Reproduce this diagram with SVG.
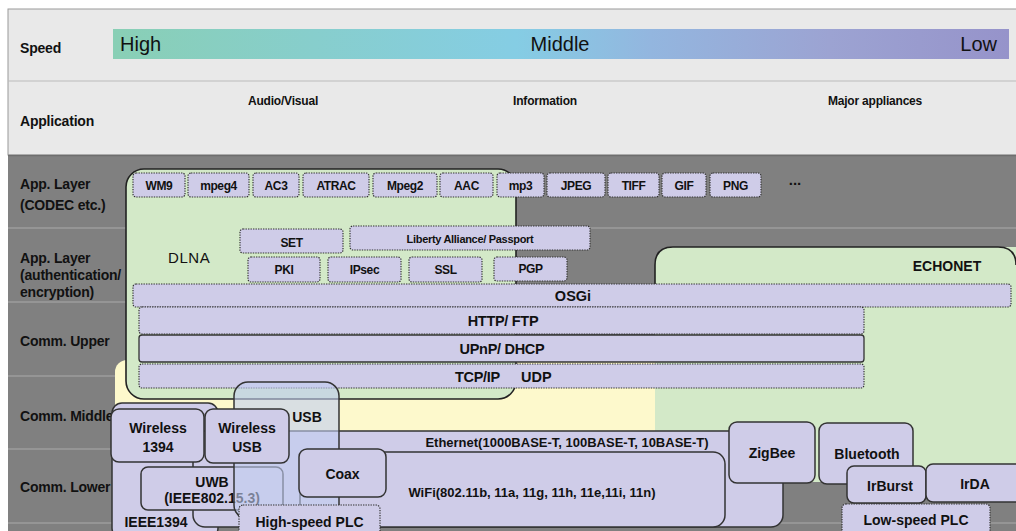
<svg xmlns="http://www.w3.org/2000/svg" width="1016" height="531" viewBox="0 0 1016 531">
<defs>
<linearGradient id="spd" x1="0" y1="0" x2="1" y2="0">
<stop offset="0" stop-color="#89cfb5"/>
<stop offset="0.45" stop-color="#85cde4"/>
<stop offset="0.6" stop-color="#93b6df"/>
<stop offset="0.8" stop-color="#9ca3d2"/>
<stop offset="1" stop-color="#9693ca"/>
</linearGradient>
<style>
text{font-family:"Liberation Sans",Arial,sans-serif;fill:#111}
.lbl{font-size:14px;font-weight:bold;letter-spacing:-0.2px}
.app{font-size:12px;font-weight:bold;text-anchor:middle;letter-spacing:-0.2px}
.spd{font-size:20px}
.c{text-anchor:middle;font-weight:bold}
.s11{font-size:11px}
.s12{font-size:12px;letter-spacing:-0.4px}
.s13{font-size:13px}
.s14{font-size:14px}
.s145{font-size:14.5px}
.box{fill:#cfcce8;stroke:#333;stroke-width:1.5}
.dot{fill:#cfcce8;stroke:#333;stroke-width:1.2;stroke-dasharray:1.4 1.1}
.div{stroke:#9c9c9c;stroke-width:1.5}
</style>
</defs>

<g id="background">
<rect x="0" y="0" width="1016" height="531" fill="#ffffff"/>
<rect x="8" y="9" width="1010" height="146" fill="#e9e9e9" stroke="#9a9a9a" stroke-width="1"/>
<line x1="8" y1="81" x2="1016" y2="81" stroke="#bcbcbc" stroke-width="1.2"/>
<rect x="8" y="155" width="1010" height="380" fill="#808080"/>
<line x1="8" y1="155.5" x2="1016" y2="155.5" stroke="#6e6e6e" stroke-width="1.5"/>
<line class="div" x1="8" y1="228" x2="1016" y2="228"/>
<line class="div" x1="8" y1="302" x2="1016" y2="302"/>
<line class="div" x1="8" y1="376" x2="1016" y2="376"/>
<line class="div" x1="8" y1="449" x2="1016" y2="449"/>
<line class="div" x1="8" y1="523" x2="1016" y2="523"/>
</g>

<g id="speed">
<rect x="113" y="29" width="896" height="30" fill="url(#spd)"/>
<text class="lbl" x="20" y="53">Speed</text>
<text class="spd" x="120" y="51">High</text>
<text class="spd" x="560" y="51" text-anchor="middle">Middle</text>
<text class="spd" x="997" y="51" text-anchor="end">Low</text>
</g>

<g id="application">
<text class="lbl" x="20" y="126">Application</text>
<text class="app" x="283" y="105">Audio/Visual</text>
<text class="app" x="545" y="105">Information</text>
<text class="app" x="875" y="105">Major appliances</text>
</g>

<g id="row-labels">
<text class="lbl" x="20" y="189">App. Layer</text>
<text class="lbl" x="20" y="210">(CODEC etc.)</text>
<text class="lbl" x="20" y="263">App. Layer</text>
<text class="lbl" x="20" y="280">(authentication/</text>
<text class="lbl" x="20" y="297">encryption)</text>
<text class="lbl" x="20" y="346">Comm. Upper</text>
<text class="lbl" x="20" y="421">Comm. Middle</text>
<text class="lbl" x="20" y="492">Comm. Lower</text>
</g>

<g id="yellow-area">
<rect x="115" y="360" width="560" height="71" rx="12" fill="#fdf9cc"/>
</g>

<g id="dlna">
<rect x="126" y="169" width="390" height="230" rx="18" fill="#d3e9c8" stroke="#222" stroke-width="1.6"/>
<text x="168" y="263" font-size="15" fill="#4a4a4a" letter-spacing="0.6">DLNA</text>
</g>

<g id="echonet">
<rect x="655" y="247" width="380" height="235" rx="18" fill="#d3e9c8"/>
<path d="M655,290 V265 Q655,247 673,247 H998 Q1016,247 1016,265" fill="none" stroke="#222" stroke-width="1.6"/>
<text x="947" y="271" font-size="14" font-weight="bold" text-anchor="middle">ECHONET</text>
</g>

<g id="codecs">
<g id="wm9"><rect class="dot" x="133" y="173" width="52" height="24" rx="3"/><text class="c s12" x="159" y="190">WM9</text></g>
<g id="mpeg4"><rect class="dot" x="188" y="173" width="61" height="24" rx="3"/><text class="c s12" x="218.5" y="190">mpeg4</text></g>
<g id="ac3"><rect class="dot" x="253" y="173" width="46" height="24" rx="3"/><text class="c s12" x="276" y="190">AC3</text></g>
<g id="atrac"><rect class="dot" x="303" y="173" width="66" height="24" rx="3"/><text class="c s12" x="336" y="190">ATRAC</text></g>
<g id="mpeg2"><rect class="dot" x="373" y="173" width="64" height="24" rx="3"/><text class="c s12" x="405" y="190">Mpeg2</text></g>
<g id="aac"><rect class="dot" x="440" y="173" width="53" height="24" rx="3"/><text class="c s12" x="466.5" y="190">AAC</text></g>
<g id="mp3"><rect class="dot" x="497" y="173" width="47" height="24" rx="3"/><text class="c s12" x="520.5" y="190">mp3</text></g>
<g id="jpeg"><rect class="dot" x="547" y="173" width="58" height="24" rx="3"/><text class="c s12" x="576" y="190">JPEG</text></g>
<g id="tiff"><rect class="dot" x="608" y="173" width="51" height="24" rx="3"/><text class="c s12" x="633.5" y="190">TIFF</text></g>
<g id="gif"><rect class="dot" x="662" y="173" width="44" height="24" rx="3"/><text class="c s12" x="684" y="190">GIF</text></g>
<g id="png"><rect class="dot" x="710" y="173" width="51" height="24" rx="3"/><text class="c s12" x="735.5" y="190">PNG</text></g>
<text class="c" font-size="15" x="795" y="185">...</text>
</g>

<g id="security">
<g id="set"><rect class="dot" x="240" y="229" width="103" height="24" rx="3"/><text class="c s12" x="291.5" y="247">SET</text></g>
<g id="liberty"><rect class="dot" x="350" y="226" width="240" height="24" rx="3"/><text class="c s11" x="470" y="243" letter-spacing="-0.3">Liberty Alliance/ Passport</text></g>
<g id="pki"><rect class="dot" x="248" y="257" width="72" height="25" rx="3"/><text class="c s12" x="284" y="274">PKI</text></g>
<g id="ipsec"><rect class="dot" x="328" y="257" width="73" height="25" rx="3"/><text class="c s12" x="364.5" y="274">IPsec</text></g>
<g id="ssl"><rect class="dot" x="409" y="257" width="73" height="25" rx="3"/><text class="c s12" x="445.5" y="274">SSL</text></g>
<g id="pgp"><rect class="dot" x="494" y="257" width="73" height="24" rx="3"/><text class="c s12" x="530.5" y="273">PGP</text></g>
</g>

<g id="osgi"><rect class="dot" x="133" y="284" width="878" height="23" rx="3"/><text class="c s145" x="573" y="301">OSGi</text></g>
<g id="http"><rect class="dot" x="139" y="307" width="725" height="27" rx="3"/><text class="c s145" x="503" y="326" letter-spacing="-0.3">HTTP/ FTP</text></g>
<g id="upnp"><rect x="139" y="335" width="725" height="27" rx="3" fill="#cfcce8" stroke="#333" stroke-width="1.3"/><text class="c s145" x="502" y="354" letter-spacing="-0.3">UPnP/ DHCP</text></g>
<g id="tcpip"><rect class="dot" x="139" y="364" width="725" height="24" rx="3"/><text class="s145" font-weight="bold" x="455" y="382" letter-spacing="-0.3">TCP/IP</text><text class="s145" font-weight="bold" x="521" y="382">UDP</text></g>

<g id="ieee1394"><rect class="box" x="112" y="403" width="106" height="135" rx="10"/><text class="c s14" x="156" y="527">IEEE1394</text></g>
<g id="ethernet"><rect class="box" x="193" y="431" width="590" height="96" rx="12"/><text class="c s13" x="567" y="447">Ethernet(1000BASE-T, 100BASE-T, 10BASE-T)</text></g>
<g id="wifi"><rect class="box" x="300" y="452" width="425" height="75" rx="12"/><text class="c s13" x="532" y="497">WiFi(802.11b, 11a, 11g, 11h, 11e,11i, 11n)</text></g>
<g id="uwb"><rect class="box" x="141" y="467" width="142" height="43" rx="7"/><text class="c s14" x="212" y="487">UWB</text><text class="c s14" x="212" y="503">(IEEE802.15.3)</text></g>
<g id="usb"><rect x="234" y="382" width="105" height="137" rx="14" fill="#c2cdf0" fill-opacity="0.6" stroke="#333" stroke-width="1.5"/><text class="c s14" x="307" y="422">USB</text></g>
<g id="wireless1394"><rect class="box" x="111" y="409" width="93" height="53" rx="8"/><text class="c s14" x="158" y="433">Wireless</text><text class="c s14" x="158" y="452">1394</text></g>
<g id="wirelessusb"><rect class="box" x="205" y="409" width="84" height="54" rx="8"/><text class="c s14" x="247" y="433">Wireless</text><text class="c s14" x="247" y="452">USB</text></g>
<g id="coax"><rect class="box" x="299" y="449" width="87" height="48" rx="8"/><text class="c s14" x="342.5" y="479">Coax</text></g>
<g id="hsplc"><rect class="dot" x="239" y="505" width="141" height="35" rx="4"/><text class="c s14" x="309.5" y="527">High-speed PLC</text></g>

<g id="zigbee"><rect class="box" x="729" y="422" width="86" height="61" rx="8"/><text class="c s14" x="772" y="458">ZigBee</text></g>
<g id="bluetooth"><rect class="box" x="819" y="423" width="94" height="61" rx="8"/><text class="c s14" x="867" y="459">Bluetooth</text></g>
<g id="irburst"><rect class="box" x="847" y="466" width="79" height="37" rx="7"/><text class="c s14" x="890" y="491">IrBurst</text></g>
<g id="irda"><rect class="box" x="926" y="464" width="100" height="38" rx="7"/><text class="c s14" x="975" y="489">IrDA</text></g>
<g id="lsplc"><rect class="dot" x="842" y="504" width="148" height="35" rx="4"/><text class="c s14" x="916" y="525">Low-speed PLC</text></g>

<g id="connectors"></g>
</svg>
